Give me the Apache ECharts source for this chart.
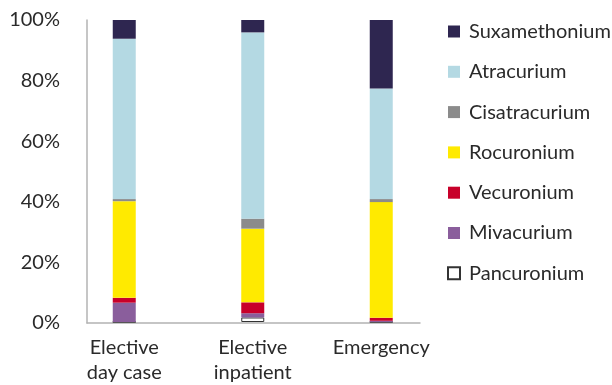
<!DOCTYPE html>
<html><head><meta charset="utf-8">
<script src="https://cdn.jsdelivr.net/npm/echarts@6/dist/echarts.min.js"></script>
<style>html,body{margin:0;padding:0;background:#fff}#c{width:612px;height:385px}</style>
</head><body><div id="c"></div>
<script>
const categories = ['Elective\nday case', 'Elective\ninpatient', 'Emergency'];
const pancuronium   = [0, 1.5, 0];
const mivacurium    = [6.4, 1.4, 0.4];
const vecuronium    = [1.6, 3.6, 1.0];
const rocuronium    = [32.0, 24.4, 38.3];
const cisatracurium = [0.7, 3.3, 1.0];
const atracurium    = [53.1, 61.7, 36.6];
const suxamethonium = [6.2, 4.1, 22.7];
const yTicks = [0, 20, 40, 60, 80, 100];

const FONT = 'Lato, "Open Sans", sans-serif';
const seriesDefs = [
  ['Pancuronium', pancuronium, '#ffffff', '#333333', 1],
  ['Mivacurium', mivacurium, '#8a5e9c'],
  ['Vecuronium', vecuronium, '#c8002a'],
  ['Rocuronium', rocuronium, '#ffea00'],
  ['Cisatracurium', cisatracurium, '#8b8b8b'],
  ['Atracurium', atracurium, '#b4d9e3'],
  ['Suxamethonium', suxamethonium, '#2e2650']
];
const series = seriesDefs.map(d => ({
  name: d[0], type: 'bar', stack: 'all', data: d[1],
  xAxisIndex: 1, yAxisIndex: 1, barWidth: 23,
  itemStyle: {color: d[2], borderColor: d[3] || d[2], borderWidth: d[4] || 0},
  emphasis: {disabled: true}
}));
const chart = echarts.init(document.getElementById('c'), null, {renderer: 'canvas'});
chart.setOption({
  animation: false,
  grid: [
    {left: 87, right: 192, top: 20, bottom: 62},
    {left: 60, width: 385.5, top: 20, bottom: 62}
  ],
  xAxis: [
    {type: 'category', gridIndex: 0, data: categories,
     axisLine: {lineStyle: {color: '#b3b3b3', width: 1.5}},
     axisTick: {show: false}, axisLabel: {show: false}},
    {type: 'category', gridIndex: 1, data: categories,
     axisLine: {show: false}, axisTick: {show: false},
     axisLabel: {interval: 0, hideOverlap: false, color: '#2a2a2a', fontSize: 20, fontFamily: FONT, lineHeight: 25, margin: 13}}
  ],
  yAxis: [
    {type: 'value', gridIndex: 0, min: 0, max: 100, interval: 20,
     axisLine: {show: true, lineStyle: {color: '#b3b3b3', width: 1.5}},
     axisTick: {show: false}, splitLine: {show: false},
     axisLabel: {color: '#2a2a2a', fontSize: 20, fontFamily: FONT, margin: 27,
       formatter: v => yTicks.includes(v) ? v + '%' : ''}},
    {type: 'value', gridIndex: 1, min: 0, max: 100, show: false, splitLine: {show: false}}
  ],
  legend: {
    orient: 'vertical', left: 442, top: 16.5,
    data: seriesDefs.map(d => d[0]).reverse(),
    itemWidth: 12, itemHeight: 12, itemGap: 20.3, icon: 'rect',
    textStyle: {color: '#2a2a2a', fontSize: 20, fontFamily: FONT, lineHeight: 20, padding: [0, 0, 0, 4]},
    selectedMode: false
  },
  series: series
});
</script></body></html>
